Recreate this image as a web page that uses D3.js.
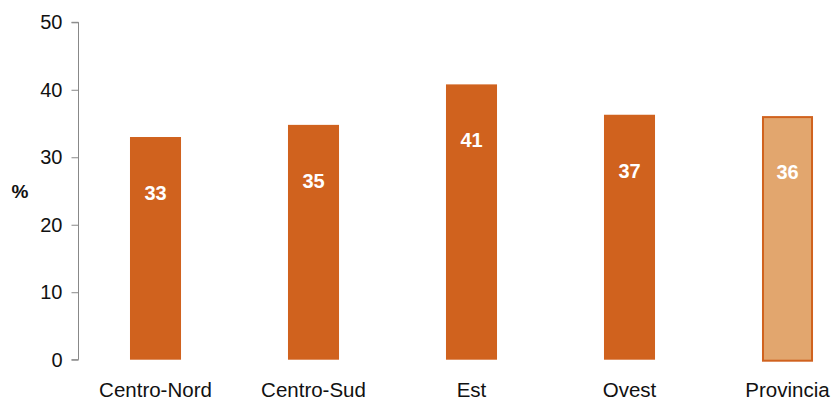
<!DOCTYPE html>
<html>
<head>
<meta charset="utf-8">
<script src="https://cdn.jsdelivr.net/npm/d3@7"></script>
<style>
  body { margin: 0; background: #fff; }
  svg text { font-family: "Liberation Sans", Arial, sans-serif; }
  .axis path, .axis line { stroke: #888; }
</style>
</head>
<body>
<div id="chart"></div>
<script>
const svgWidth = 832;
const svgHeight = 402;

// data
const categories = ["Centro-Nord", "Centro-Sud", "Est", "Ovest", "Provincia"];
const values = [33.0, 34.8, 40.8, 36.3, 36.1];
const valueLabels = ["33", "35", "41", "37", "36"];
const highlighted = ["Provincia"];
const yTicks = [0, 10, 20, 30, 40, 50];

const mainColor = "#D0621E";
const lightColor = "#E2A66E";

const svg = d3.select("#chart")
                .append("svg")
                .attr("width", svgWidth)
                .attr("height", svgHeight);

const yscale = d3.scaleLinear()
                    .domain([0, 50])
                    .range([359.7, 22.3]);

// band scale reaching past the right edge, like the original
const xscale = d3.scaleBand()
                    .domain(categories)
                    .range([76.5, 76.5 + 5 * 158])
                    .paddingInner(0.677)
                    .paddingOuter(0.3385);

const yaxis = d3.axisLeft(yscale)
                .tickValues(yTicks)
                .tickSize(7)
                .tickPadding(9);

const gy = svg.append("g")
    .attr("class", "axis")
    .attr("transform", "translate(78.5,0)")
    .call(yaxis);
gy.select(".domain").attr("d", "M-7,22.3H0V359.7H-7");
gy.selectAll("text")
    .attr("font-size", 20)
    .attr("fill", "#111");

// y axis unit
svg.append("text")
    .attr("x", 20)
    .attr("y", 198)
    .attr("text-anchor", "middle")
    .attr("font-size", 19)
    .attr("font-weight", "bold")
    .attr("fill", "#111")
    .text("%");

const data = categories.map(function(c, i){
    return {cat: c, val: values[i], label: valueLabels[i]};
});

// bars (the provincial one is lighter with an outline)
svg.selectAll("rect.bar")
    .data(data)
    .enter()
    .append("rect")
    .attr("class", "bar")
    .attr("x", function(d){
        return highlighted.includes(d.cat) ? xscale(d.cat) + 1 : xscale(d.cat);
    })
    .attr("y", function(d){
        return highlighted.includes(d.cat) ? yscale(d.val) + 1 : yscale(d.val);
    })
    .attr("width", function(d){
        return highlighted.includes(d.cat) ? xscale.bandwidth() - 2 : xscale.bandwidth();
    })
    .attr("height", function(d){ return yscale(0) - yscale(d.val); })
    .attr("fill", function(d){ return highlighted.includes(d.cat) ? lightColor : mainColor; })
    .attr("stroke", function(d){ return highlighted.includes(d.cat) ? mainColor : "none"; })
    .attr("stroke-width", 2);

// value labels inside bars
svg.selectAll("text.val")
    .data(data)
    .enter()
    .append("text")
    .attr("class", "val")
    .attr("x", function(d){ return xscale(d.cat) + xscale.bandwidth() / 2; })
    .attr("y", function(d){ return yscale(d.val) + 63; })
    .attr("text-anchor", "middle")
    .attr("font-size", 20)
    .attr("font-weight", "bold")
    .attr("fill", "#fff")
    .text(function(d){ return d.label; });

// category labels
svg.selectAll("text.cat")
    .data(data)
    .enter()
    .append("text")
    .attr("class", "cat")
    .attr("x", function(d){ return xscale(d.cat) + xscale.bandwidth() / 2; })
    .attr("y", 397)
    .attr("text-anchor", "middle")
    .attr("font-size", 20.5)
    .attr("fill", "#111")
    .text(function(d){ return d.cat; });
</script>
</body>
</html>
